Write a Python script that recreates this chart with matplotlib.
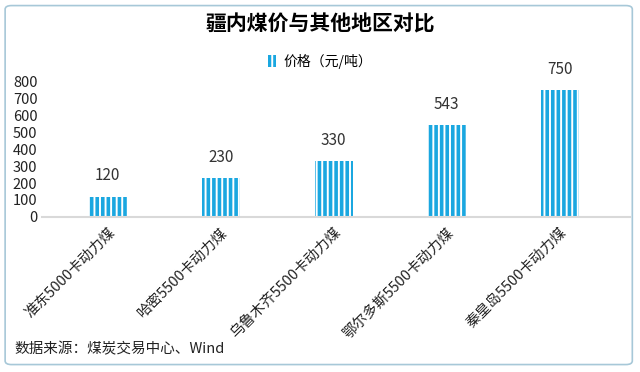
import matplotlib
matplotlib.use("Agg")
import matplotlib.pyplot as plt
from matplotlib.patches import FancyBboxPatch

plt.rcParams["font.family"] = ["Noto Sans CJK SC", "DejaVu Sans"]
plt.rcParams["hatch.linewidth"] = 2.6

regions = ["准东5000卡动力煤", "哈密5500卡动力煤", "乌鲁木齐5500卡动力煤",
           "鄂尔多斯5500卡动力煤", "秦皇岛5500卡动力煤"]
prices = [120, 230, 330, 543, 750]
yticks = [0, 100, 200, 300, 400, 500, 600, 700, 800]

blue = "#1aa7e0"

fig = plt.figure(figsize=(6.4, 3.72), dpi=100)
ax = fig.add_axes([0.066, 0.417, 0.918, 0.363])

x = list(range(len(regions)))
bars = ax.bar(x, prices, width=0.34, facecolor="white", edgecolor=blue,
              hatch="|||", linewidth=0, label="价格（元/吨）")
for xi, v in zip(x, prices):
    ax.annotate(str(v), (xi, v), xytext=(0, 9), textcoords="offset points",
                ha="center", va="bottom", fontsize=11, color="#333333")

ax.set_xlim(-0.58, 4.62)
ax.set_ylim(0, 800)
ax.set_yticks(yticks)
ax.set_xticks(x)
ax.set_xticklabels(regions, rotation=45, ha="right", rotation_mode="anchor",
                   fontsize=10.5)
ax.tick_params(axis="y", length=0, labelsize=10.5, colors="#222222")
ax.tick_params(axis="x", length=0, colors="#222222", pad=6)
for s in ["top", "right", "left"]:
    ax.spines[s].set_visible(False)
ax.spines["bottom"].set_color("#d9d9d9")
ax.spines["bottom"].set_linewidth(1.5)

fig.text(0.5, 0.935, "疆内煤价与其他地区对比", ha="center", va="center",
         fontsize=15, fontweight="bold")
fig.legend(handles=[bars], loc="center", bbox_to_anchor=(0.5, 0.835),
           frameon=False, fontsize=10, handlelength=0.6, handleheight=0.9,
           handletextpad=0.5)
fig.text(0.022, 0.06, "数据来源：煤炭交易中心、Wind", ha="left", va="center",
         fontsize=10.5, color="#222222")

border = FancyBboxPatch((0.008, 0.02), 0.98, 0.965,
                        boxstyle="round,pad=0,rounding_size=0.01",
                        transform=fig.transFigure, fill=False,
                        edgecolor="#a7c8d8", linewidth=1.2)
fig.patches.append(border)

fig.savefig("out.png", dpi=100)
